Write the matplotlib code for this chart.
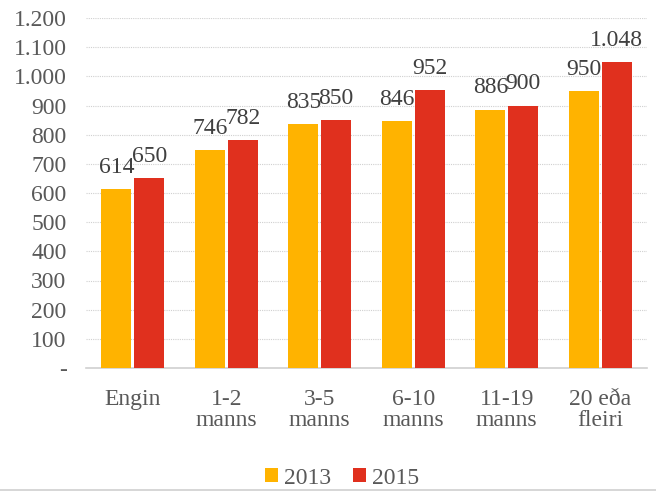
import numpy as np
import matplotlib.pyplot as plt
from matplotlib.ticker import FuncFormatter
from matplotlib.lines import Line2D

categories = ["Engin", "1-2\nmanns", "3-5\nmanns", "6-10\nmanns", "11-19\nmanns", "20 eða\nfleiri"]
values_2013 = [614, 746, 835, 846, 886, 950]
values_2015 = [650, 782, 850, 952, 900, 1048]

COLOR_2013 = "#FFB300"
COLOR_2015 = "#E0301E"
TEXT = "#595959"
FS = 17

plt.rcParams["font.family"] = ["Liberation Serif", "DejaVu Serif"]


def fmt(v, pos=None):
    if v == 0:
        return "-"
    return f"{int(v):,}".replace(",", ".")


fig = plt.figure(figsize=(6.56, 4.91), dpi=100)
ax = fig.add_axes([86 / 656, 1 - 368 / 491, 561 / 656, 350 / 491])

x = np.arange(len(categories))
w = 0.32
gap = 0.016
b1 = ax.bar(x - w / 2 - gap, values_2013, w, color=COLOR_2013, label="2013", zorder=3)
b2 = ax.bar(x + w / 2 + gap, values_2015, w, color=COLOR_2015, label="2015", zorder=3)

# value labels above each bar
for bars, vals in [(b1, values_2013), (b2, values_2015)]:
    for r, v in zip(bars, vals):
        ax.annotate(fmt(v), (r.get_x() + r.get_width() / 2, v), xytext=(0, 8),
                    textcoords="offset points", ha="center", va="bottom",
                    fontsize=FS, color="#404040")

ax.set_xlim(-0.5, len(categories) - 0.5)
ax.set_ylim(0, 1200)
ax.set_yticks(np.arange(0, 1201, 100))
ax.yaxis.set_major_formatter(FuncFormatter(fmt))
ax.set_xticks(x)
ax.set_xticklabels(categories, linespacing=1.0)
ax.tick_params(axis="both", length=0, labelsize=FS, colors=TEXT)
ax.tick_params(axis="x", pad=15)
ax.tick_params(axis="y", pad=14)

ax.grid(axis="y", color="#d0d0d0", linestyle=(0, (1, 1)), linewidth=0.8, zorder=0)
for s in ["top", "right", "left"]:
    ax.spines[s].set_visible(False)
ax.spines["bottom"].set_color("#d0d0d0")
ax.spines["bottom"].set_linewidth(1.2)

fig.legend(loc="center", bbox_to_anchor=(342 / 656, 1 - 478 / 491), ncol=2, frameon=False,
           fontsize=FS, handlelength=0.55, handleheight=0.55, handletextpad=0.25,
           columnspacing=0.9, labelcolor=TEXT, borderpad=0)

fig.add_artist(Line2D([0, 1], [1.5 / 491, 1.5 / 491], color="#d0d0d0", linewidth=1.2))

fig.savefig("out.png", dpi=100)
